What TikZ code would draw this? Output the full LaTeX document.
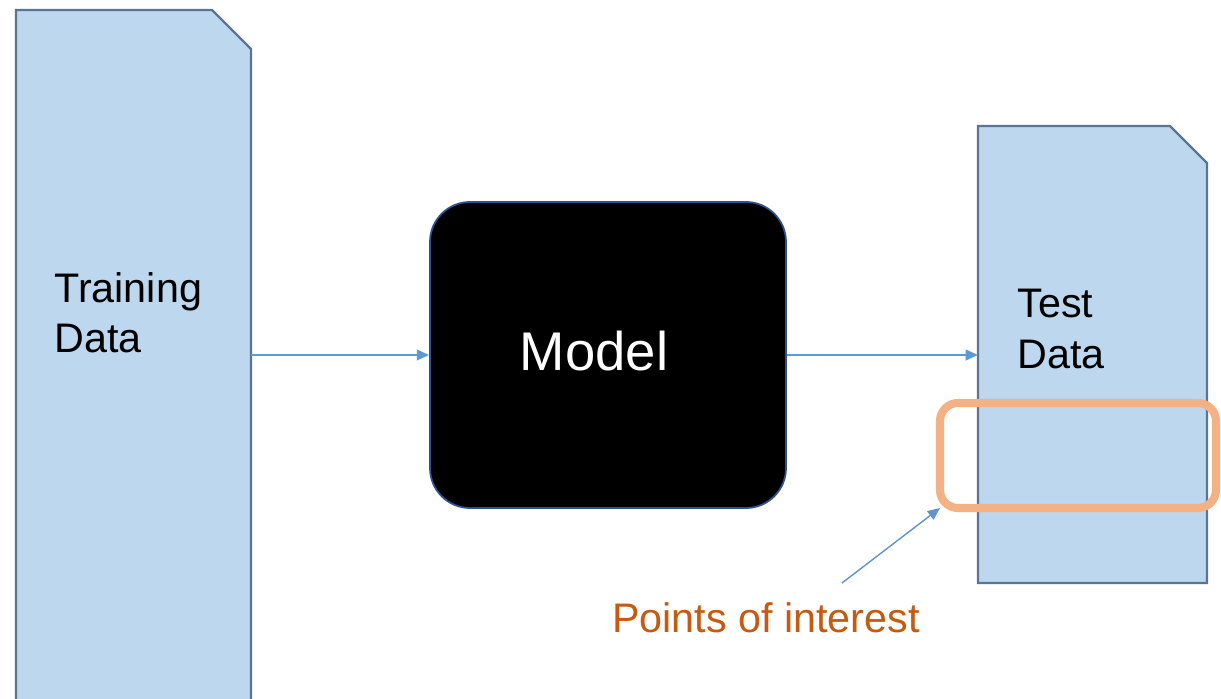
\documentclass[tikz,border=0pt]{standalone}
\usepackage{fontspec}
\setmainfont{Liberation Sans}
\usetikzlibrary{arrows.meta}
\definecolor{docfill}{HTML}{BDD7EE}
\definecolor{docline}{HTML}{5B7490}
\definecolor{arrowblue}{HTML}{5B9BD5}
\definecolor{hilite}{HTML}{F4B183}
\definecolor{poi}{HTML}{C55A11}
\definecolor{modelline}{HTML}{2F528F}
\tikzset{
  doc/.style={fill=docfill, draw=docline, line width=1.3pt, line join=miter},
  flow/.style={draw=arrowblue, line width=1.2pt, -{Triangle[length=7pt,width=6pt]}},
  lbl/.style={font=\fontsize{23.5}{28.5}\selectfont, align=left, inner sep=0pt},
}
\begin{document}
\begin{tikzpicture}[x=0.02cm,y=-0.02cm]
\useasboundingbox (0,0) rectangle (1221,699);
\clip (0,0) rectangle (1221,699);
\fill[white] (0,0) rectangle (1221,699);
% Training data document
\draw[doc] (16,730) -- (16,10) -- (212,10) -- (251,49) -- (251,730);
\coordinate (trainR) at (251,355);
\node[lbl, anchor=west] (train) at (54,313) {Training\\Data};
% Test data document
\draw[doc] (978,583) -- (978,126) -- (1170,126) -- (1207,163) -- (1207,583) -- cycle;
\coordinate (testL) at (978,355);
\node[lbl, anchor=west] (test) at (1017,329) {Test\\Data};
% Model
\node[fill=black, draw=modelline, line width=1pt, rounded corners=40*0.02cm,
      minimum width=356*0.02cm, minimum height=306*0.02cm, inner sep=0pt,
      text=white, font=\fontsize{31}{36}\selectfont] (model) at (608,355) {};
\node[text=white, font=\fontsize{31}{36}\selectfont, inner sep=0pt] (modeltxt) at (594,351) {Model};
% Arrows
\draw[flow] (trainR) -- (model.west);
\draw[flow] (model.east) -- (testL);
% Highlight
\draw[hilite, line width=4.6pt, rounded corners=18*0.02cm] (940,403) rectangle (1216,508);
\coordinate (hlcorner) at (940,508);
\node[text=poi, font=\fontsize{23.5}{28}\selectfont, inner sep=0pt] (poi) at (766,618) {Points of interest};
\coordinate (poitail) at (842,583);
\draw[draw=arrowblue!80!gray, line width=0.8pt, -{Triangle[length=7pt,width=6pt]}] (poitail) -- (hlcorner);
\end{tikzpicture}
\end{document}
